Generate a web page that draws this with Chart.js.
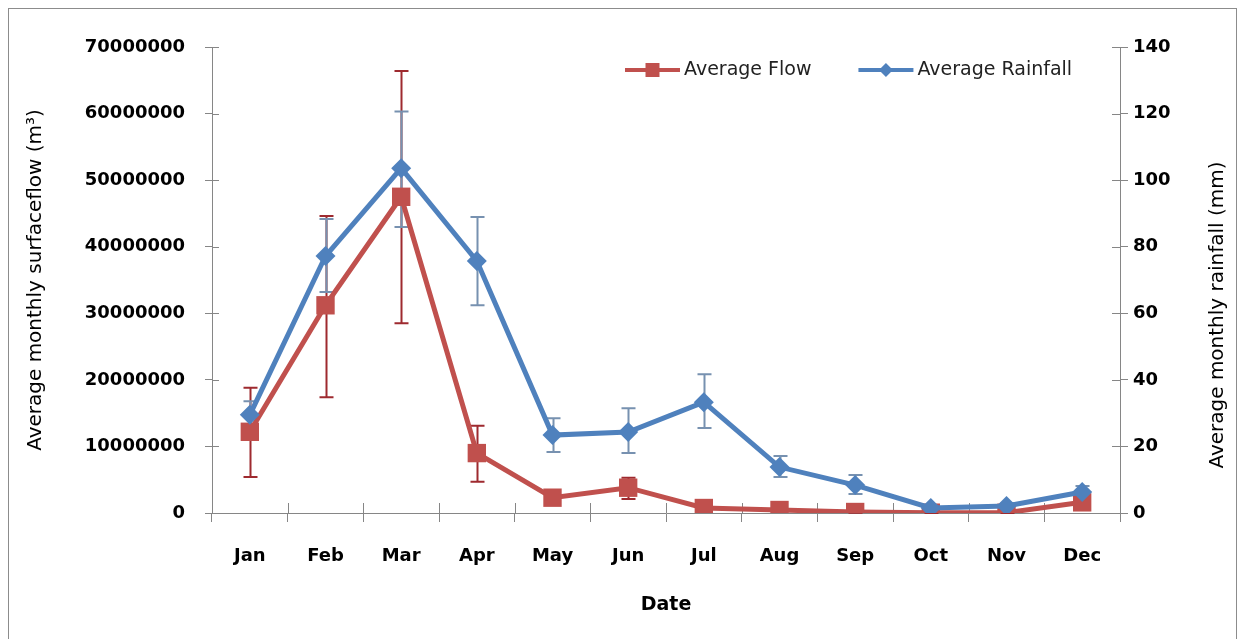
<!DOCTYPE html>
<html>
<head>
<meta charset="utf-8">
<title>Average monthly surface flow and rainfall</title>
<script src="https://cdn.jsdelivr.net/npm/chart.js@4.4.1/dist/chart.umd.min.js"></script>
<style>
    html, body { margin: 0; padding: 0; background: #fff; }
    canvas { display: block; }
</style>
</head>
<body>
<canvas id="myChart" width="1237" height="639"></canvas>
<script>
// datos
var months = ['Jan', 'Feb', 'Mar', 'Apr', 'May', 'Jun', 'Jul', 'Aug', 'Sep', 'Oct', 'Nov', 'Dec'];

var flowMean = [12200000, 31200000, 47500000, 9000000, 2300000, 3800000, 750000, 450000, 150000, 50000, 50000, 1600000];
var flowHigh = [18800000, 44600000, 66400000, 13100000, 2500000, 5300000, 850000, 550000, 250000, 100000, 100000, 1800000];
var flowLow = [5400000, 17400000, 28500000, 4700000, 2100000, 2100000, 650000, 350000, 50000, 0, 0, 1400000];

var rainMean = [29.5, 77.2, 103.6, 75.7, 23.4, 24.3, 33.3, 13.8, 8.4, 1.5, 2.1, 6.3];
var rainHigh = [33.6, 88.3, 120.6, 88.9, 28.5, 31.5, 41.7, 17.1, 11.4, 2.3, 2.9, 8.1];
var rainLow = [23.5, 66.4, 85.9, 62.4, 18.3, 18.0, 25.5, 10.8, 5.7, 0.8, 1.3, 4.6];

var flowTicks = { min: 0, max: 70000000, step: 10000000 };
var rainTicks = { min: 0, max: 140, step: 20 };

var FONT = '"DejaVu Sans", sans-serif';
var AXIS_GREY = '#868686';

// marco exterior
var framePlugin = {
    id: 'frame',
    beforeDraw: function (chart) {
        var ctx = chart.ctx;
        ctx.save();
        ctx.fillStyle = '#fff';
        ctx.fillRect(0, 0, chart.width, chart.height);
        ctx.strokeStyle = '#8c8c8c';
        ctx.lineWidth = 1;
        ctx.strokeRect(8.5, 8.5, chart.width - 9, chart.height + 20);
        ctx.restore();
    }
};

// marcas de eje que cruzan hacia dentro
var crossTicksPlugin = {
    id: 'crossTicks',
    beforeDatasetsDraw: function (chart) {
        var ctx = chart.ctx;
        var a = chart.chartArea;
        var x = chart.scales.x, y = chart.scales.y, y1 = chart.scales.y1;
        ctx.save();
        ctx.strokeStyle = AXIS_GREY;
        ctx.lineWidth = 1;
        ctx.beginPath();
        y.ticks.forEach(function (t) {
            var p = Math.round(y.getPixelForValue(t.value)) + 0.5;
            ctx.moveTo(a.left, p);
            ctx.lineTo(a.left + 7, p);
        });
        y1.ticks.forEach(function (t) {
            var p = Math.round(y1.getPixelForValue(t.value)) + 0.5;
            ctx.moveTo(a.right, p);
            ctx.lineTo(a.right - 8, p);
        });
        for (var i = 0; i <= months.length; i++) {
            var p = Math.round(x.getPixelForValue(i - 0.5)) + 0.5;
            ctx.moveTo(p, a.bottom);
            ctx.lineTo(p, a.bottom - 10);
        }
        ctx.stroke();
        ctx.restore();
    }
};

// barras de error (debajo de las lineas y marcadores)
var errorBarsPlugin = {
    id: 'errorBars',
    beforeDatasetsDraw: function (chart) {
        var ctx = chart.ctx;
        var x = chart.scales.x;
        ctx.save();
        chart.data.datasets.forEach(function (ds) {
            var yScale = chart.scales[ds.yAxisID];
            ctx.strokeStyle = ds.errorColor;
            ctx.lineWidth = 2;
            ctx.beginPath();
            ds.data.forEach(function (v, i) {
                var px = Math.round(x.getPixelForValue(i)) + 0.5;
                var top = yScale.getPixelForValue(ds.errHigh[i]);
                var bot = yScale.getPixelForValue(ds.errLow[i]);
                ctx.moveTo(px, top);
                ctx.lineTo(px, bot);
                ctx.moveTo(px - 7, top);
                ctx.lineTo(px + 7, top);
                ctx.moveTo(px - 7, bot);
                ctx.lineTo(px + 7, bot);
            });
            ctx.stroke();
        });
        ctx.restore();
    }
};

// leyenda dentro del area del grafico, y titulo del eje derecho
var legendPlugin = {
    id: 'boxLegend',
    afterDraw: function (chart) {
        var ctx = chart.ctx;
        var a = chart.chartArea;
        var x = a.left + 413;
        var y = a.top + 23;
        ctx.save();
        ctx.font = '19px ' + FONT;
        ctx.textBaseline = 'middle';
        ctx.textAlign = 'left';
        chart.data.datasets.forEach(function (ds) {
            ctx.strokeStyle = ds.borderColor;
            ctx.lineWidth = 4;
            ctx.beginPath();
            ctx.moveTo(x, y);
            ctx.lineTo(x + 55, y);
            ctx.stroke();
            ctx.fillStyle = ds.backgroundColor;
            ctx.beginPath();
            if (ds.pointStyle === 'rect') {
                ctx.rect(x + 27.5 - 7, y - 7, 14, 14);
            } else {
                ctx.moveTo(x + 27.5, y - 7);
                ctx.lineTo(x + 34.5, y);
                ctx.lineTo(x + 27.5, y + 7);
                ctx.lineTo(x + 20.5, y);
                ctx.closePath();
            }
            ctx.fill();
            ctx.fillStyle = '#222';
            ctx.fillText(ds.label, x + 59, y);
            x += 59 + ctx.measureText(ds.label).width + 47;
        });

        var y1 = chart.scales.y1;
        ctx.translate(y1.right - 19, (a.top + a.bottom) / 2 + 35);
        ctx.rotate(-Math.PI / 2);
        ctx.textAlign = 'center';
        ctx.fillStyle = '#000';
        ctx.font = '20px ' + FONT;
        ctx.fillText('Average monthly rainfall (mm)', 0, 0);
        ctx.restore();
    }
};

var ctx = document.getElementById('myChart').getContext('2d');

new Chart(ctx, {
    type: 'line',
    data: {
        labels: months,
        datasets: [
            {
                label: 'Average Flow',
                data: flowMean,
                errHigh: flowHigh,
                errLow: flowLow,
                errorColor: '#9e2a2f',
                yAxisID: 'y',
                borderColor: '#C0504D',
                backgroundColor: '#C0504D',
                borderWidth: 5,
                pointStyle: 'rect',
                pointRadius: 13,
                pointBorderWidth: 0,
                tension: 0,
                fill: false,
                order: 2
            },
            {
                label: 'Average Rainfall',
                data: rainMean,
                errHigh: rainHigh,
                errLow: rainLow,
                errorColor: '#7791b0',
                yAxisID: 'y1',
                borderColor: '#4F81BD',
                backgroundColor: '#4F81BD',
                borderWidth: 5,
                pointStyle: 'rectRot',
                pointRadius: 10,
                pointBorderWidth: 0,
                tension: 0,
                fill: false,
                order: 1
            }
        ]
    },
    options: {
        responsive: false,
        animation: false,
        layout: {
            padding: { top: 47, left: 0, right: 0, bottom: 0 }
        },
        plugins: {
            legend: { display: false },
            tooltip: { enabled: false }
        },
        scales: {
            x: {
                offset: true,
                afterFit: function (scale) { scale.height = 126; },
                grid: {
                    offset: true,
                    drawOnChartArea: false,
                    tickLength: 9,
                    color: AXIS_GREY
                },
                border: { color: AXIS_GREY },
                ticks: {
                    padding: 24,
                    color: '#000',
                    maxRotation: 0,
                    font: { family: FONT, size: 18, weight: 'bold' }
                },
                title: {
                    display: true,
                    text: 'Date',
                    color: '#000',
                    padding: { top: 0, bottom: 23 },
                    font: { family: FONT, size: 19, weight: 'bold' }
                }
            },
            y: {
                position: 'left',
                min: flowTicks.min,
                max: flowTicks.max,
                afterFit: function (scale) { scale.width = 212; },
                grid: {
                    drawOnChartArea: false,
                    tickLength: 7,
                    color: AXIS_GREY
                },
                border: { color: AXIS_GREY },
                ticks: {
                    stepSize: flowTicks.step,
                    padding: 20,
                    color: '#000',
                    font: { family: FONT, size: 18, weight: 'bold' },
                    callback: function (v) { return String(v); }
                },
                title: {
                    display: true,
                    text: 'Average monthly surfaceflow (m³)',
                    color: '#000',
                    padding: { top: 24, bottom: 0 },
                    font: { family: FONT, size: 20 }
                }
            },
            y1: {
                position: 'right',
                min: rainTicks.min,
                max: rainTicks.max,
                afterFit: function (scale) { scale.width = 117; },
                grid: {
                    drawOnChartArea: false,
                    tickLength: 8,
                    color: AXIS_GREY
                },
                border: { color: AXIS_GREY },
                ticks: {
                    stepSize: rainTicks.step,
                    padding: 5,
                    color: '#000',
                    font: { family: FONT, size: 18, weight: 'bold' }
                }
            }
        }
    },
    plugins: [framePlugin, crossTicksPlugin, errorBarsPlugin, legendPlugin]
});
</script>
</body>
</html>
